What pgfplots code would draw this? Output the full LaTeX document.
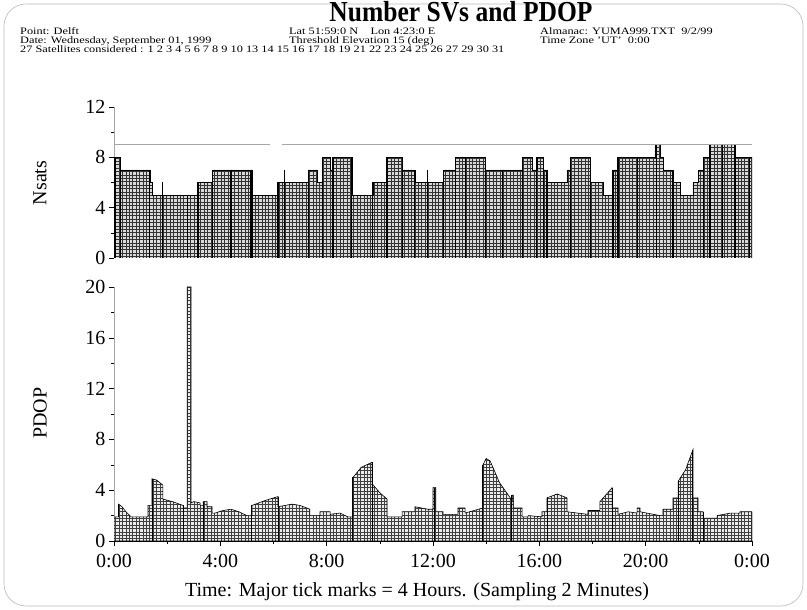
\documentclass[border=0pt]{standalone}
\usepackage{pgfplots}
\pgfplotsset{compat=1.18}
\usepackage{pgfplotstable}
\usepackage{fontspec}
\setmainfont{Liberation Serif}
\usetikzlibrary{patterns}
\usepackage{graphicx}

\pgfdeclarepatternformonly{sqgrid}{\pgfqpoint{-1pt}{-1pt}}{\pgfqpoint{4pt}{4pt}}{\pgfqpoint{3.4pt}{3.4pt}}{%
  \pgfsetlinewidth{0.55pt}%
  \pgfpathmoveto{\pgfqpoint{0pt}{0pt}}\pgfpathlineto{\pgfqpoint{0pt}{3.5pt}}%
  \pgfpathmoveto{\pgfqpoint{0pt}{0pt}}\pgfpathlineto{\pgfqpoint{3.5pt}{0pt}}%
  \pgfusepath{stroke}}

\newcommand{\hd}[1]{\scalebox{1}[0.8]{\fontsize{12.3}{12.3}\selectfont #1}}

\pgfplotstableread{
h n
0 8
0.23 7
1.35 6
1.43 5
3.16 6
3.69 7
5.19 5
6.17 6
7.30 7
7.64 6
7.83 8
8.13 7
8.24 8
8.95 5
9.74 6
10.27 8
10.84 7
11.32 6
12.38 7
12.83 8
13.96 7
15.35 8
15.73 7
15.91 8
16.14 7
16.29 6
17.04 7
17.16 8
17.91 6
18.40 5
18.77 7
18.96 8
20.35 9
20.54 8
20.65 7
21.03 6
21.29 5
21.78 6
21.97 7
22.16 8
22.42 9
23.36 8
24 8
}\nsats

\pgfplotstableread{
h n
0.05 8
0.23 7
1.35 7
1.84 6
2.78 5
3.16 6
3.69 7
4.40 7
5.12 7
5.19 7
6.17 6
6.43 7
7.30 7
7.83 8
8.24 8
8.95 8
9.74 6
10.27 8
10.84 8
11.32 7
11.80 7
12.38 7
12.83 8
13.21 8
13.96 8
14.6 7
15.35 8
15.91 8
16.14 8
16.29 7
17.16 8
17.91 8
18.77 7
18.96 8
19.70 8
20.40 9
21.03 7
22.16 8
22.42 9
22.9 9
23.36 9
23.9 8
}\nsatslines

\pgfplotstableread{
h v
0 1.9
0.17 1.9
0.17 2.9
0.30 2.7
0.45 2.3
0.60 2.0
0.60 1.9
1.28 1.9
1.28 2.8
1.43 2.8
1.43 4.9
1.60 4.8
1.84 4.4
1.84 3.3
2.20 3.1
2.60 2.8
2.60 2.6
2.75 2.6
2.75 20
2.90 20
2.90 3.0
3.00 3.1
3.24 3.0
3.24 2.8
3.35 2.8
3.35 3.1
3.50 3.1
3.50 2.7
3.69 2.7
3.69 2.2
3.80 2.2
4.10 2.4
4.40 2.5
4.70 2.3
5.00 2.0
5.19 2.0
5.19 2.8
5.70 3.2
6.17 3.5
6.17 2.7
6.70 2.9
7.00 2.8
7.37 2.5
7.37 2.0
7.75 2.0
7.75 2.3
8.13 2.3
8.13 2.1
8.50 2.2
8.80 1.9
8.99 1.9
8.99 5.0
9.30 5.8
9.71 6.2
9.71 4.5
10.00 3.8
10.27 3.3
10.27 1.9
10.84 1.9
10.84 2.3
11.32 2.3
11.32 2.7
11.81 2.5
12.00 2.5
12.00 4.2
12.11 4.2
12.11 2.3
12.38 2.3
12.38 2.1
12.94 2.1
12.94 2.6
13.21 2.6
13.21 2.2
13.88 2.6
13.88 6.0
14.00 6.5
14.15 6.3
14.50 4.6
14.97 3.2
14.97 3.6
15.02 3.6
15.02 2.6
15.35 2.6
15.35 1.9
15.58 1.9
15.58 2.0
16.10 1.9
16.10 2.3
16.29 2.3
16.29 3.4
16.67 3.7
17.04 3.4
17.04 2.3
17.83 2.1
17.83 2.4
18.28 2.4
18.28 3.1
18.74 4.2
18.74 2.6
18.96 2.6
18.96 2.1
19.34 2.3
19.68 2.2
19.68 2.6
19.79 2.6
19.79 2.3
20.54 2.0
20.65 2.0
20.65 2.5
21.03 2.5
21.03 3.4
21.22 3.4
21.22 4.7
21.50 5.6
21.78 7.2
21.78 3.4
21.97 3.4
21.97 2.3
22.16 2.3
22.16 1.8
22.69 1.8
22.69 2.0
23.20 2.2
23.55 2.2
23.55 2.3
24 2.3
}\pdop

\pgfplotstableread{
h v
1.43 4.9
2.60 2.8
3.35 3.1
5.19 2.8
6.17 3.5
8.99 5.0
9.71 6.2
12.05 4.2
13.88 6.0
14.97 3.6
16.29 3.4
18.74 4.2
21.22 4.7
21.78 7.2
22.16 2.3
24 2.3
}\pdoplines

\pgfplotsset{
  common/.style={
    scale only axis, width=638pt, anchor=south west,
    xmin=0, xmax=24,
    tick align=outside,
    major tick length=5pt, minor tick length=3pt,
    tick style={black, line width=0.4pt},
    /pgf/number format/assume math mode=true,
    ticklabel style={font=\fontsize{20}{20}\selectfont},
    clip=true,
  }
}

\begin{document}
\begin{tikzpicture}
\path[use as bounding box] (0pt,0pt) rectangle (807pt,610pt);
\draw[gray!55, line width=0.6pt, rounded corners=22pt] (4pt,4pt) rectangle (803pt,606pt);

% title and header
\node[anchor=base, inner sep=0] at (461pt,588.5pt) {\scalebox{0.88}[1]{\fontsize{29}{29}\selectfont\bfseries Number SVs and PDOP}};
\node[anchor=base west, inner sep=0] at (20pt,575.5pt) {\hd{Point: Delft}};
\node[anchor=base west, inner sep=0] at (20pt,566.5pt) {\hd{Date: Wednesday, September 01, 1999}};
\node[anchor=base west, inner sep=0] at (20pt,557.5pt) {\hd{27 Satellites considered : 1 2 3 4 5 6 7 8 9 10 13 14 15 16 17 18 19 21 22 23 24 25 26 27 29 30 31}};
\node[anchor=base west, inner sep=0] at (289pt,575.5pt) {\hd{Lat 51:59:0 N\quad Lon 4:23:0 E}};
\node[anchor=base west, inner sep=0] at (289pt,566.5pt) {\hd{Threshold Elevation 15 (deg)}};
\node[anchor=base west, inner sep=0] at (540pt,575.5pt) {\hd{Almanac: YUMA999.TXT\enspace 9/2/99}};
\node[anchor=base west, inner sep=0] at (540pt,566.5pt) {\hd{Time Zone 'UT'\enspace 0:00}};

% top panel: Nsats
\begin{axis}[common, at={(114pt,352pt)}, height=151pt,
  ymin=0, ymax=12, ytick={0,4,8,12}, minor y tick num=1,
  axis x line=none, axis y line*=left,
  y axis line style={gray!70, line width=0.5pt},
]
\addplot[const plot, fill=gray!30, draw=none] table {\nsats} \closedcycle;
\addplot[const plot, pattern=sqgrid, pattern color=black!80, draw=black, line width=0.6pt] table {\nsats} \closedcycle;
\addplot[ycomb, black, line width=1.1pt, mark=none] table {\nsatslines};
\addplot[gray!70, line width=0.6pt] coordinates {(0,9) (5.87,9)};
\addplot[gray!70, line width=0.6pt] coordinates {(6.32,9) (24,9)};
\end{axis}

% bottom panel: PDOP
\begin{axis}[common, at={(114pt,69pt)}, height=254pt,
  ymin=0, ymax=20, ytick={0,4,...,20}, minor y tick num=1,
  xtick={0,4,...,24}, xticklabels={0:00,4:00,8:00,12:00,16:00,20:00,0:00},
  minor x tick num=1,
  xticklabel style={yshift=-5pt},
  axis lines*=left,
  y axis line style={gray!70, line width=0.5pt},
  x axis line style={black, line width=0.6pt},
]
\addplot[fill=gray!15, draw=none] table {\pdop} \closedcycle;
\addplot[pattern=sqgrid, pattern color=black!75, draw=black, line width=0.6pt] table {\pdop} \closedcycle;
\addplot[ycomb, black, line width=1pt, mark=none] table {\pdoplines};
\end{axis}

% axis labels
\node[rotate=90, font=\fontsize{20}{20}\selectfont] at (40pt,427pt) {Nsats};
\node[rotate=90, font=\fontsize{20}{20}\selectfont] at (40pt,197pt) {PDOP};
\node[font=\fontsize{20}{20}\selectfont] at (417pt,18pt) {Time: Major tick marks = 4 Hours. (Sampling 2 Minutes)};
\end{tikzpicture}
\end{document}
